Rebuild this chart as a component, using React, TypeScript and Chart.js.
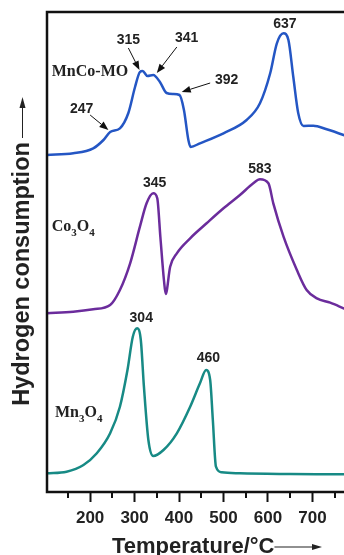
import React, { useEffect, useRef } from 'react';
import { Chart, registerables } from 'chart.js';
Chart.register(...registerables);

// ---- data (temperature in °C, signal in arbitrary offset units) ----
const mncoT = [103, 162, 207, 230, 245, 267, 286, 301, 312, 318, 329, 342, 357, 372, 387, 401, 411, 421, 426, 447, 500, 552, 582, 605, 620, 635, 646, 657, 668, 680, 702, 732, 770, 800];
const mncoY = [337, 338.7, 343.7, 352, 360, 363.7, 379, 405, 420, 421, 416, 417, 410, 399, 398, 397, 382, 352, 345, 348.7, 358.7, 372, 388.7, 418.7, 448.7, 458.7, 452, 415, 379, 366, 366.3, 362.7, 357, 352];

const co3o4T = [103, 162, 207, 245, 267, 290, 312, 327, 342, 351, 358, 366, 370, 380, 395, 425, 462, 500, 537, 567, 582, 601, 612, 635, 665, 687, 710, 740, 770, 800];
const co3o4Y = [178.7, 180.3, 182.7, 187, 202, 228.7, 265.3, 288.7, 298.7, 293.7, 255, 212, 198, 225.3, 238.7, 253.7, 268.7, 283.7, 297, 308.7, 312.7, 308.7, 288.7, 255.3, 222, 202, 193.7, 189.3, 183.7, 178];

const mn3o4T = [103, 147, 185, 215, 245, 267, 284, 296, 306, 314, 321, 331, 342, 365, 395, 425, 447, 461, 470, 476, 483, 496, 537, 650, 770, 800];
const mn3o4Y = [18.7, 20.3, 27, 38.7, 58.7, 85.3, 122, 155.3, 163.7, 152, 105.3, 52, 36, 42, 58.7, 85.3, 108.7, 122, 112, 72, 25.3, 19.7, 18.7, 18, 17.7, 17.5];

const xMin = 103;
const xMax = 807;
const yMin = 0;
const yMax = 480;
const lastLabel = 700;

// peak annotations
const peakText = ['247', '315', '341', '392', '637', '345', '583', '304', '460'];
const peakT = [181, 286, 417, 507, 638, 345, 582, 315, 466];
const peakY = [383, 452, 454, 412, 468, 309, 323, 174, 134];

// arrows pointing to shoulders
const arrowTailT = [200, 286, 395, 470];
const arrowTailY = [377, 444, 445, 409];
const arrowHeadT = [241, 311, 350, 406];
const arrowHeadY = [362, 422, 419, 400];

// series names: [main, subscript] pieces
const seriesNames = [
  [['MnCo-MO', '']],
  [['Co', '3'], ['O', '4']],
  [['Mn', '3'], ['O', '4']],
];
const seriesNameT = [113.7, 113.7, 121];
const seriesNameY = [420, 265, 79];

const colors = ['#2456c4', '#6b2c9c', '#178a85'];

function arrow(ctx: CanvasRenderingContext2D, x1: number, y1: number, x2: number, y2: number, head = 8, half = 3.5) {
  const ang = Math.atan2(y2 - y1, x2 - x1);
  const bx = x2 - head * Math.cos(ang);
  const by = y2 - head * Math.sin(ang);
  ctx.beginPath();
  ctx.moveTo(x1, y1);
  ctx.lineTo(bx, by);
  ctx.stroke();
  ctx.beginPath();
  ctx.moveTo(x2, y2);
  ctx.lineTo(bx + half * Math.sin(ang), by - half * Math.cos(ang));
  ctx.lineTo(bx - half * Math.sin(ang), by + half * Math.cos(ang));
  ctx.closePath();
  ctx.fill();
}

const decor = {
  id: 'decor',
  afterDraw(chart: any) {
    const { ctx, chartArea: a, scales } = chart;
    const x = scales.x;
    const y = scales.y;
    ctx.save();
    ctx.strokeStyle = '#111';
    ctx.fillStyle = '#111';
    // frame
    ctx.lineWidth = 2.5;
    ctx.strokeRect(a.left, a.top, a.right - a.left, a.bottom - a.top);
    // minor ticks
    ctx.lineWidth = 2;
    x.ticks.forEach((t: any) => {
      if (t.value % 100 !== 0) {
        const px = Math.round(x.getPixelForValue(t.value));
        ctx.beginPath();
        ctx.moveTo(px, a.bottom);
        ctx.lineTo(px, a.bottom + 6);
        ctx.stroke();
      }
    });
    // peak labels
    ctx.fillStyle = '#222';
    ctx.font = 'bold 14px Arial, "Liberation Sans", sans-serif';
    ctx.textAlign = 'center';
    ctx.textBaseline = 'middle';
    peakText.forEach((s, i) => {
      ctx.fillText(s, x.getPixelForValue(peakT[i]), y.getPixelForValue(peakY[i]));
    });
    // arrows
    ctx.strokeStyle = '#111';
    ctx.fillStyle = '#111';
    ctx.lineWidth = 1;
    arrowTailT.forEach((_, i) => {
      arrow(ctx,
        x.getPixelForValue(arrowTailT[i]), y.getPixelForValue(arrowTailY[i]),
        x.getPixelForValue(arrowHeadT[i]), y.getPixelForValue(arrowHeadY[i]), 9, 3.5);
    });
    // series names
    ctx.fillStyle = '#222';
    ctx.textAlign = 'left';
    ctx.textBaseline = 'middle';
    seriesNames.forEach((parts, i) => {
      let px = x.getPixelForValue(seriesNameT[i]);
      const py = y.getPixelForValue(seriesNameY[i]);
      parts.forEach(([main, sub]) => {
        ctx.font = 'bold 16px "Liberation Serif", "Times New Roman", serif';
        ctx.fillText(main, px, py);
        px += ctx.measureText(main).width;
        if (sub) {
          ctx.font = 'bold 11px "Liberation Serif", "Times New Roman", serif';
          ctx.fillText(sub, px, py + 6);
          px += ctx.measureText(sub).width;
        }
      });
    });
    // x title with arrow
    ctx.fillStyle = '#222';
    ctx.font = 'bold 22px Arial, "Liberation Sans", sans-serif';
    ctx.textAlign = 'left';
    ctx.textBaseline = 'alphabetic';
    const xt = 'Temperature/°C';
    const w = ctx.measureText(xt).width;
    const tx = 112;
    ctx.fillText(xt, tx, 553);
    ctx.strokeStyle = '#222';
    ctx.fillStyle = '#222';
    ctx.lineWidth = 1.2;
    arrow(ctx, tx + w, 547, 322, 547, 10, 3);
    // y title with arrow
    ctx.save();
    ctx.translate(22.5, 274);
    ctx.rotate(-Math.PI / 2);
    ctx.font = 'bold 23.5px Arial, "Liberation Sans", sans-serif';
    ctx.textAlign = 'center';
    ctx.textBaseline = 'middle';
    ctx.fillText('Hydrogen consumption', 0, 0);
    ctx.restore();
    ctx.lineWidth = 1;
    arrow(ctx, 22.5, 138, 22.5, 97, 11, 3);
    ctx.restore();
  },
};

export default function App() {
  const ref = useRef<HTMLCanvasElement>(null);
  useEffect(() => {
    if (!ref.current) return;
    const mk = (T: number[], Y: number[]) => T.map((t, i) => ({ x: t, y: Y[i] }));
    const chart = new Chart(ref.current, {
      type: 'line',
      data: {
        datasets: [
          { label: 'MnCo-MO', data: mk(mncoT, mncoY), borderColor: colors[0] },
          { label: 'Co3O4', data: mk(co3o4T, co3o4Y), borderColor: colors[1] },
          { label: 'Mn3O4', data: mk(mn3o4T, mn3o4Y), borderColor: colors[2] },
        ],
      },
      options: {
        animation: false,
        responsive: false,
        devicePixelRatio: 1,
        layout: { padding: { left: 47, top: 12, right: 2, bottom: 29 } },
        elements: {
          point: { radius: 0 },
          line: { borderWidth: 2.5, cubicInterpolationMode: 'monotone', fill: false },
        },
        plugins: { legend: { display: false }, tooltip: { enabled: false } },
        scales: {
          x: {
            type: 'linear',
            min: xMin,
            max: xMax,
            afterFit: (s: any) => { s.height = 34; s.paddingLeft = 0; s.paddingRight = 0; },
            border: { display: false },
            grid: {
              drawOnChartArea: false,
              drawTicks: true,
              tickLength: 10,
              tickWidth: 2,
              tickColor: (c: any) => (c.tick && c.tick.value % 100 === 0 ? '#111' : 'rgba(0,0,0,0)'),
            },
            ticks: {
              stepSize: 50,
              includeBounds: false,
              autoSkip: false,
              maxRotation: 0,
              padding: 6,
              color: '#222',
              font: { family: 'Arial, "Liberation Sans", sans-serif', size: 17, weight: 'bold' },
              callback: (v: any) => (Number(v) % 100 === 0 && Number(v) <= lastLabel ? String(v) : ''),
            },
          },
          y: { type: 'linear', min: yMin, max: yMax, display: false },
        },
      },
      plugins: [decor],
    } as any);
    return () => chart.destroy();
  }, []);
  return (
    <div style={{ position: 'fixed', left: 0, top: 0, width: 344, height: 555, overflow: 'hidden', background: '#fff' }}>
      <canvas ref={ref} width={362} height={555} style={{ display: 'block', width: 362, height: 555 }} />
    </div>
  );
}
